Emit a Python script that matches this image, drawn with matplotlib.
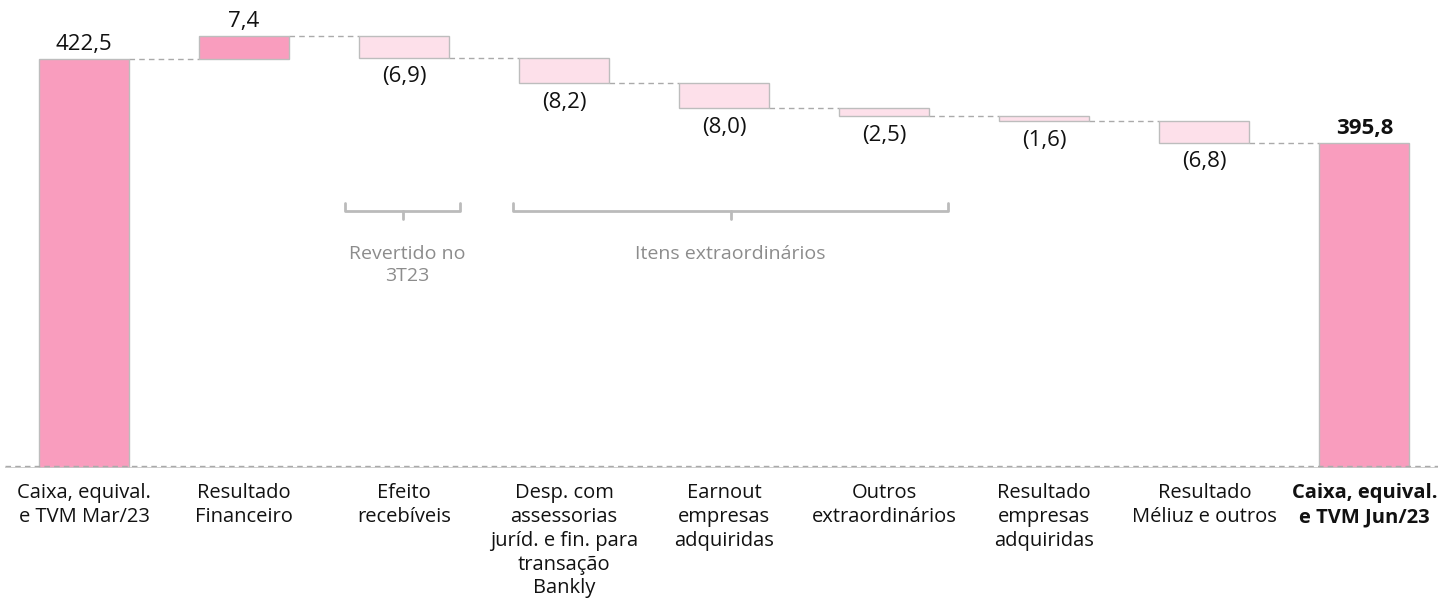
import matplotlib
matplotlib.use("Agg")
import matplotlib.pyplot as plt

categories = ["Caixa, equival.\ne TVM Mar/23", "Resultado\nFinanceiro", "Efeito\nrecebíveis",
              "Desp. com\nassessorias\njuríd. e fin. para\ntransação\nBankly",
              "Earnout\nempresas\nadquiridas", "Outros\nextraordinários",
              "Resultado\nempresas\nadquiridas", "Resultado\nMéliuz e outros",
              "Caixa, equival.\ne TVM Jun/23"]
values = [422.5, 7.4, -6.9, -8.2, -8.0, -2.5, -1.6, -6.8, 395.8]
labels = ["422,5", "7,4", "(6,9)", "(8,2)", "(8,0)", "(2,5)", "(1,6)", "(6,8)", "395,8"]
kinds = ["total", "delta", "delta", "delta", "delta", "delta", "delta", "delta", "total"]

YMIN = 292.3
DARK = "#F99DBE"
LIGHT = "#FDE0EA"
EDGE = "#BDBDBD"
FONT = ["Open Sans", "DejaVu Sans"]

fig = plt.figure(figsize=(14.43, 6.02), dpi=100)
ax = fig.add_axes([5/1443, 134/602, 1433/1443, 468/602])

width = 0.5625
running = 0.0
levels = []
for i, (v, k) in enumerate(zip(values, kinds)):
    if k == "total":
        b, t = YMIN, v
        running = v
    else:
        new = running + v
        b, t = min(running, new), max(running, new)
        running = new
    levels.append(running)
    color = DARK if (k == "total" or v > 0) else LIGHT
    ax.bar(i, t - b, bottom=b, width=width, color=color, edgecolor=EDGE, linewidth=1, zorder=2)
    if k == "total" or v > 0:
        ax.annotate(labels[i], (i, t), xytext=(0, 3), textcoords="offset points",
                    ha="center", va="bottom", fontsize=16, family=FONT,
                    fontweight="bold" if i == len(values) - 1 else "normal", color="#111111")
    else:
        ax.annotate(labels[i], (i, b), xytext=(0, -6), textcoords="offset points",
                    ha="center", va="top", fontsize=16, family=FONT, color="#111111")

# connectors
for i in range(len(values) - 1):
    ax.plot([i + width / 2, i + 1 - width / 2], [levels[i], levels[i]], ls=(0, (4, 3)),
            color="#AAAAAA", lw=1, zorder=1)

# baseline
ax.axhline(YMIN, color="#C8C8C8", lw=1.2, zorder=3)
ax.axhline(YMIN + 0.5, color="#AAAAAA", lw=1, ls=(0, (4, 3)), zorder=3)

# braces
def brace(x0, x1, ytop, ymid, ytip):
    xm = (x0 + x1) / 2
    ax.plot([x0, x0, x1, x1], [ytop, ymid, ymid, ytop], color="#BBBBBB", lw=2,
            solid_joinstyle="round", solid_capstyle="round", zorder=1)
    ax.plot([xm, xm], [ymid, ytip], color="#BBBBBB", lw=2, solid_capstyle="round")

brace(1.63, 2.35, 376.8, 374.2, 371.6)
brace(2.68, 5.40, 376.8, 374.2, 371.6)
ax.text(2.02, 363.2, "Revertido no\n3T23", ha="center", va="top", fontsize=14,
        family=FONT, color="#8C8C8C", linespacing=1.25)
ax.text(4.04, 363.2, "Itens extraordinários", ha="center", va="top", fontsize=14,
        family=FONT, color="#8C8C8C")

ax.set_xlim(-0.494, 8.46)
ax.set_ylim(YMIN, YMIN + 468 / 3.14)
ax.set_xticks(range(len(categories)))
ax.set_xticklabels(categories, fontsize=14.5, family=FONT, color="#111111", linespacing=1.25)
ax.get_xticklabels()[-1].set_fontweight("bold")
ax.tick_params(axis="x", length=0, pad=11)
ax.set_yticks([])
for s in ax.spines.values():
    s.set_visible(False)

fig.savefig("out.png", dpi=100)
